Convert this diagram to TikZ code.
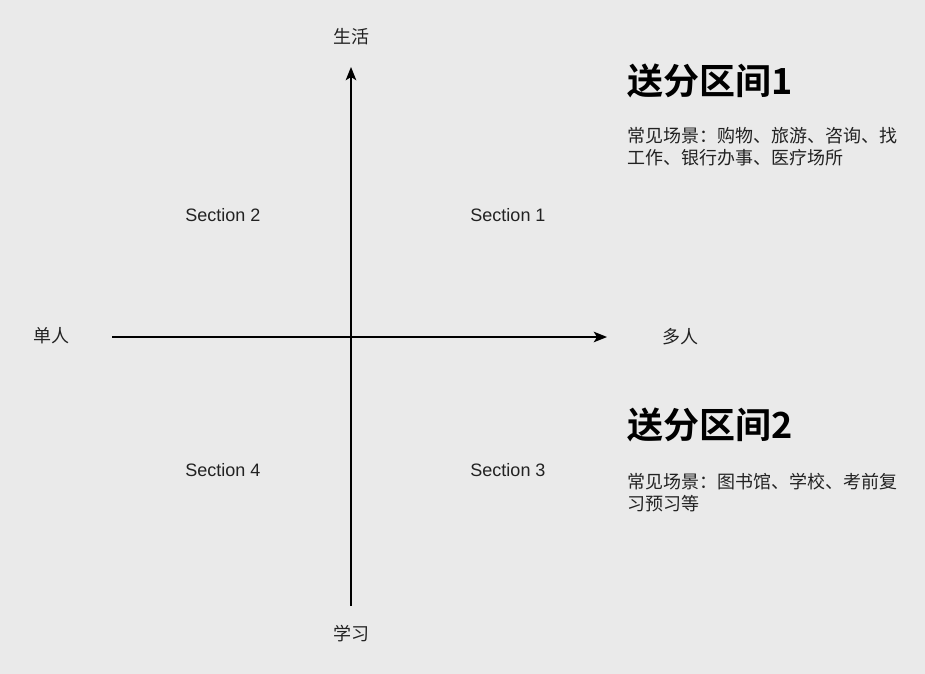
\documentclass[tikz,border=0pt]{standalone}
\usepackage{fontspec}
\setmainfont{Liberation Sans}
\newfontfamily\cjk[BoldFont={Noto Sans CJK SC Bold}]{Noto Sans CJK SC}
\usetikzlibrary{arrows.meta}
\definecolor{bggray}{HTML}{EAEAEA}
\definecolor{axisblack}{HTML}{000000}
\definecolor{textgray}{HTML}{222222}

\begin{document}
\begin{tikzpicture}[x=0.75pt,y=-0.75pt,
  axisline/.style={draw=axisblack,line width=1pt,-{Stealth[length=10pt,width=8pt,inset=2.5pt]}},
  axislabel/.style={font=\cjk\fontsize{13.5}{16}\selectfont,text=textgray,inner sep=0pt},
  sectionlabel/.style={font=\fontsize{13.5}{16}\selectfont,text=textgray,inner sep=0pt},
  zonetitle/.style={font=\cjk\bfseries\fontsize{27}{32}\selectfont,text=axisblack,anchor=west,inner sep=0pt},
  zonenote/.style={font=\cjk\fontsize{13.5}{16.5}\selectfont,text=textgray,anchor=north west,align=left,inner sep=0pt}]
\fill[bggray] (0,0) rectangle (925,674); %Background, fixes the page size
\coordinate (top) at (351,67);
\coordinate (bottom) at (351,606);
\coordinate (left) at (112,337);
\coordinate (right) at (607,337);
\draw[axisline] (bottom) -- (top); %Vertical axis
\draw[axisline] (left) -- (right); %Horizontal axis
\node[axislabel] (life) at (351,37) {生活};
\node[axislabel] (study) at (351,634) {学习};
\node[axislabel] (single) at (51,336) {单人};
\node[axislabel] (multi) at (680,337) {多人};
\node[sectionlabel] (sec1) at (508,215) {Section 1};
\node[sectionlabel] (sec2) at (223,215) {Section 2};
\node[sectionlabel] (sec3) at (508,470) {Section 3};
\node[sectionlabel] (sec4) at (223,470) {Section 4};
\node[zonetitle] (zone1) at (627,81) {送分区间1}; %Top zone
\node[zonenote] (note1) at (627,127) {常见场景：购物、旅游、咨询、找\\工作、银行办事、医疗场所};
\node[zonetitle] (zone2) at (627,425) {送分区间2}; %Bottom zone
\node[zonenote] (note2) at (627,473) {常见场景：图书馆、学校、考前复\\习预习等};
\end{tikzpicture}
\end{document}
